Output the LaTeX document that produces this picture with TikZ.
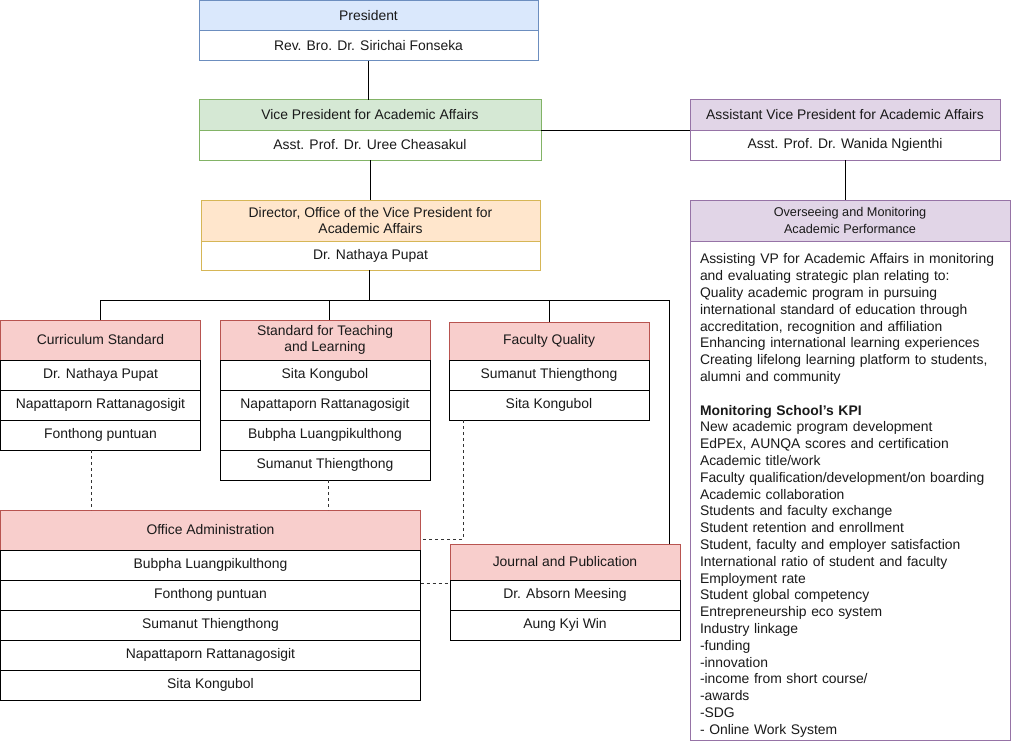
\documentclass[tikz,border=0pt]{standalone}
\usepackage{fontspec}
\setmainfont{Liberation Sans}
\usetikzlibrary{positioning}
\definecolor{bluefill}{HTML}{DAE8FC}
\definecolor{blueline}{HTML}{6C8EBF}
\definecolor{greenfill}{HTML}{D5E8D4}
\definecolor{greenline}{HTML}{82B366}
\definecolor{orangefill}{HTML}{FFE6CC}
\definecolor{orangeline}{HTML}{D6B656}
\definecolor{purplefill}{HTML}{E1D5E7}
\definecolor{purpleline}{HTML}{9673A6}
\definecolor{redfill}{HTML}{F8CECC}
\definecolor{redline}{HTML}{B85450}
\definecolor{inkgray}{HTML}{1A1A1A}
\tikzset{
  cell/.style={draw, rectangle, outer sep=0pt, inner sep=1pt, minimum height=30pt, align=center, text=inkgray, font=\fontsize{13.9}{16.8}\selectfont},
  bluehead/.style={cell, fill=bluefill, draw=blueline},
  bluecell/.style={cell, fill=white, draw=blueline},
  greenhead/.style={cell, fill=greenfill, draw=greenline},
  greencell/.style={cell, fill=white, draw=greenline},
  orangehead/.style={cell, fill=orangefill, draw=orangeline, minimum height=41pt},
  orangecell/.style={cell, fill=white, draw=orangeline, minimum height=29pt},
  purplehead/.style={cell, fill=purplefill, draw=purpleline},
  purplecell/.style={cell, fill=white, draw=purpleline},
  redhead/.style={cell, fill=redfill, draw=redline, minimum height=40pt},
  namecell/.style={cell, fill=white, draw=black},
  link/.style={draw=black, line width=1pt},
  dotlink/.style={draw=black!80, line width=1pt, dash pattern=on 3pt off 3pt}
}
\begin{document}
\begin{tikzpicture}[x=1pt, y=-1pt, line width=1pt]
  \useasboundingbox (0,0) rectangle (1011,741);
  % top of the chart
  \node[bluehead, anchor=north west, minimum width=339pt] (pres) at (199,1) {President};
  \node[bluecell, minimum width=339pt, below=0pt of pres] (presname) {Rev. Bro. Dr. Sirichai Fonseka};
  \node[greenhead, anchor=north west, minimum width=342pt] (vp) at (199,100) {Vice President for Academic Affairs};
  \node[greencell, minimum width=342pt, below=0pt of vp] (vpname) {Asst. Prof. Dr. Uree Cheasakul};
  \node[orangehead, anchor=north west, minimum width=339pt] (dir) at (201,200) {Director, Office of the Vice President for\\Academic Affairs};
  \node[orangecell, minimum width=339pt, below=0pt of dir] (dirname) {Dr. Nathaya Pupat};
  \node[purplehead, anchor=north west, minimum width=310pt] (avp) at (690,100) {Assistant Vice President for Academic Affairs};
  \node[purplecell, minimum width=310pt, below=0pt of avp] (avpname) {Asst. Prof. Dr. Wanida Ngienthi};
  \node[purplehead, anchor=north west, minimum width=320pt, minimum height=41pt, font=\fontsize{12.7}{17}\selectfont] (over) at (690,200) {Overseeing and Monitoring\\Academic Performance};
  \node[purplecell, anchor=north west, minimum width=320pt, minimum height=499pt, text width=300pt, inner xsep=10pt, align=left] (overbody) at (690,241) {%
    \rule{0pt}{20pt}Assisting VP for Academic Affairs in monitoring\\
    and evaluating strategic plan relating to:\\
    Quality academic program in pursuing\\
    international standard of education through\\
    accreditation, recognition and affiliation\\
    Enhancing international learning experiences\\
    Creating lifelong learning platform to students,\\
    alumni and community\\[16.8pt]
    \textbf{Monitoring School's KPI}\\
    New academic program development\\
    EdPEx, AUNQA scores and certification\\
    Academic title/work\\
    Faculty qualification/development/on boarding\\
    Academic collaboration\\
    Students and faculty exchange\\
    Student retention and enrollment\\
    Student, faculty and employer satisfaction\\
    International ratio of student and faculty\\
    Employment rate\\
    Student global competency\\
    Entrepreneurship eco system\\
    Industry linkage\\
    -funding\\
    -innovation\\
    -income from short course/\\
    -awards\\
    -SDG\\
    - Online Work System};
  % working groups
  \node[redhead, anchor=north west, minimum width=200pt] (curr) at (0.5,320) {Curriculum Standard};
  \node[namecell, minimum width=200pt, below=0pt of curr] (currA) {Dr. Nathaya Pupat};
  \node[namecell, minimum width=200pt, below=0pt of currA] (currB) {Napattaporn Rattanagosigit};
  \node[namecell, minimum width=200pt, below=0pt of currB] (currC) {Fonthong puntuan};
  \node[redhead, anchor=north west, minimum width=210pt] (stl) at (220,320) {Standard for Teaching\\and Learning};
  \node[namecell, minimum width=210pt, below=0pt of stl] (stlA) {Sita Kongubol};
  \node[namecell, minimum width=210pt, below=0pt of stlA] (stlB) {Napattaporn Rattanagosigit};
  \node[namecell, minimum width=210pt, below=0pt of stlB] (stlC) {Bubpha Luangpikulthong};
  \node[namecell, minimum width=210pt, below=0pt of stlC] (stlD) {Sumanut Thiengthong};
  \node[redhead, anchor=north west, minimum width=200pt, minimum height=38pt] (fq) at (449,322) {Faculty Quality};
  \node[namecell, minimum width=200pt, below=0pt of fq] (fqA) {Sumanut Thiengthong};
  \node[namecell, minimum width=200pt, below=0pt of fqA] (fqB) {Sita Kongubol};
  \node[redhead, anchor=north west, minimum width=420pt] (office) at (0.5,510) {Office Administration};
  \node[namecell, minimum width=420pt, below=0pt of office] (offA) {Bubpha Luangpikulthong};
  \node[namecell, minimum width=420pt, below=0pt of offA] (offB) {Fonthong puntuan};
  \node[namecell, minimum width=420pt, below=0pt of offB] (offC) {Sumanut Thiengthong};
  \node[namecell, minimum width=420pt, below=0pt of offC] (offD) {Napattaporn Rattanagosigit};
  \node[namecell, minimum width=420pt, below=0pt of offD] (offE) {Sita Kongubol};
  \node[redhead, anchor=north west, minimum width=230pt, minimum height=36pt] (journal) at (450,544) {Journal and Publication};
  \node[namecell, minimum width=230pt, below=0pt of journal] (journalA) {Dr. Absorn Meesing};
  \node[namecell, minimum width=230pt, below=0pt of journalA] (journalB) {Aung Kyi Win};
  % lines
  \coordinate (hub) at (369,300);
  \coordinate (stldrop) at (329,300);
  \coordinate (jdrop) at (669,300);
  \draw[link] (presname.south) -- (presname.south |- vp.north);
  \draw[link] (vp.south east) -- (avp.south west);
  \draw[link] (vpname.south) -- (vpname.south |- dir.north);
  \draw[link] (avpname.south) -- (avpname.south |- over.north);
  \draw[link] (dirname.south -| hub) -- (hub);
  \draw[link] (curr.north) -- (curr.north |- hub) -- (jdrop) -- (jdrop |- journal.north);
  \draw[link] (stldrop) -- (stldrop |- stl.north);
  \draw[link] (fq.north) -- (fq.north |- hub);
  \draw[dotlink] ([xshift=-9pt]currC.south) -- ([xshift=-9pt]currC.south |- office.north);
  \draw[dotlink] ([xshift=3pt]stlD.south) -- ([xshift=3pt]stlD.south |- office.north);
  \draw[dotlink] ([xshift=14pt]fqB.south west) |- ([yshift=-9pt]office.east);
  \draw[dotlink] ([yshift=-3pt]offA.south east) -- ([yshift=-3pt]offA.south east -| journal.west);
\end{tikzpicture}
\end{document}
